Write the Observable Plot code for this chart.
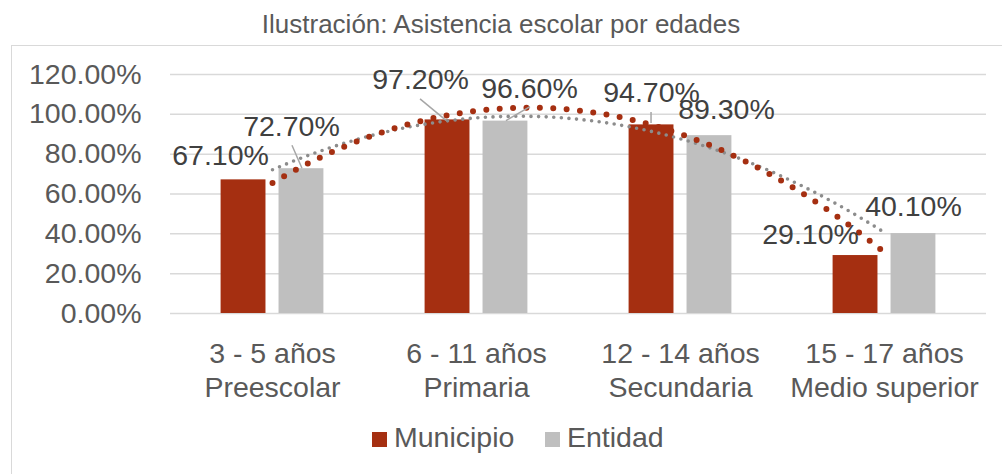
<!DOCTYPE html>
<html>
<head>
<meta charset="utf-8">
<script src="https://cdn.jsdelivr.net/npm/d3@7"></script>
<script src="https://cdn.jsdelivr.net/npm/@observablehq/plot@0.6"></script>
<style>
  html, body { margin: 0; padding: 0; background: #fff; }
  #wrap { position: relative; width: 1002px; height: 474px; overflow: hidden; font-family: "Liberation Sans", Arial, sans-serif; }
  #frame { position: absolute; left: 11px; top: 45px; width: 1200px; height: 600px; border: 1.5px solid #d9d9d9; box-sizing: border-box; }
  #title { position: absolute; left: 0; width: 1002px; top: 11px; text-align: center; font-size: 26px; line-height: 26px; color: #595959; white-space: nowrap; }
  #chart { position: absolute; left: 0; top: 0; }
  .sw { position: absolute; width: 15px; height: 15px; }
  .lt { position: absolute; font-size: 28.5px; line-height: 28.5px; color: #595959; white-space: nowrap; }
</style>
</head>
<body>
<div id="wrap">
  <div id="frame"></div>
  <div id="title">Ilustración: Asistencia escolar por edades</div>
  <div id="chart"></div>
  <div id="legend"></div>
</div>
<script>
// ---- data ----
const categories = ["3 - 5 años\nPreescolar", "6 - 11 años\nPrimaria", "12 - 14 años\nSecundaria", "15 - 17 años\nMedio superior"];
const seriesNames = ["Municipio", "Entidad"];
const municipio = [67.1, 97.2, 94.7, 29.1];
const entidad = [72.7, 96.6, 89.3, 40.1];
const yTicks = [0, 20, 40, 60, 80, 100, 120];

// ---- style / layout ----
const colors = {Municipio: "#A52F11", Entidad: "#BFBFBF"};
const trendColors = {Municipio: "#A52F11", Entidad: "#8C8C8C"};
const barGap = 0.032, barW = 0.22;
// per-label pixel nudges [dx, dy] from bar-top centre
const labelNudge = {
  Municipio: [[-23, -14.5], [-27, -30.6], [0, -22.5], [-45, -12]],
  Entidad:   [[-10, -33],   [24, -22.8],  [17, -17],  [0, -18]]
};
// leader lines: from/to offsets (pixels) relative to bar-top centre
const leaderSpecs = [
  {s: "Entidad", i: 0, from: [-9, -23], to: [1, 0]},
  {s: "Municipio", i: 1, from: [-27, -20.6], to: [-1, 1]},
  {s: "Entidad", i: 1, from: [25, -14], to: [1, 0]},
  {s: "Municipio", i: 2, from: [0, -12.5], to: [0, -1.5]}
];

const valuesOf = {Municipio: municipio, Entidad: entidad};
const rows = [];
seriesNames.forEach((s, k) => {
  valuesOf[s].forEach((v, i) => {
    const x1 = k === 0 ? i - barGap - barW : i + barGap;
    rows.push({s, i, v, x1, x2: x1 + barW, xc: x1 + barW / 2});
  });
});

// quadratic least-squares trendline (as the spreadsheet's polynomial trendline)
function quadFit(ys) {
  const n = ys.length;
  let S = [0, 0, 0, 0, 0], T = [0, 0, 0];
  ys.forEach((y, x) => {
    for (let p = 0; p <= 4; p++) S[p] += Math.pow(x, p);
    for (let p = 0; p <= 2; p++) T[p] += Math.pow(x, p) * y;
  });
  const A = [[S[0], S[1], S[2]], [S[1], S[2], S[3]], [S[2], S[3], S[4]]];
  const det = m => m[0][0]*(m[1][1]*m[2][2]-m[1][2]*m[2][1]) - m[0][1]*(m[1][0]*m[2][2]-m[1][2]*m[2][0]) + m[0][2]*(m[1][0]*m[2][1]-m[1][1]*m[2][0]);
  const D = det(A);
  const coef = [0, 1, 2].map(c => det(A.map((r, j) => r.map((v, q) => q === c ? T[j] : v))) / D);
  return x => coef[0] + coef[1] * x + coef[2] * x * x;
}
const trend = [];
seriesNames.forEach(s => {
  const f = quadFit(valuesOf[s]);
  const n = valuesOf[s].length;
  for (let t = 0; t <= (n - 1) + 1e-9; t += 0.02) trend.push({s, t, y: f(t)});
});

const fmt = v => v.toFixed(2) + "%";

function leaders(index, scales) {
  const g = document.createElementNS("http://www.w3.org/2000/svg", "g");
  for (const L of leaderSpecs) {
    const r = rows.find(d => d.s === L.s && d.i === L.i);
    const bx = scales.x(r.xc), by = scales.y(r.v);
    const ln = document.createElementNS("http://www.w3.org/2000/svg", "line");
    ln.setAttribute("x1", bx + L.from[0]); ln.setAttribute("y1", by + L.from[1]);
    ln.setAttribute("x2", bx + L.to[0]); ln.setAttribute("y2", by + L.to[1]);
    ln.setAttribute("stroke", "#a6a6a6"); ln.setAttribute("stroke-width", "1.5");
    g.appendChild(ln);
  }
  return g;
}

const labelMarks = rows.map((r, j) => Plot.text([r], {
  x: "xc", y: "v", text: d => fmt(d.v),
  dx: labelNudge[r.s][r.i][0], dy: labelNudge[r.s][r.i][1],
  lineAnchor: "bottom", textAnchor: "middle",
  fill: "#404040", fontSize: 28.5
}));

const plot = Plot.plot({
  width: 1002,
  height: 420,
  marginTop: 74,
  marginBottom: 107,
  marginLeft: 170,
  marginRight: 16,
  style: {fontFamily: "'Liberation Sans', Arial, sans-serif", fontSize: "28.5px", color: "#595959", background: "transparent", overflow: "visible"},
  x: {type: "linear", domain: [-0.5, categories.length - 0.5]},
  y: {domain: [0, 120]},
  marks: [
    Plot.ruleY(yTicks, {stroke: "#d9d9d9", strokeWidth: 1.5}),
    Plot.rectY(rows, {x1: "x1", x2: "x2", y1: 0, y2: "v", fill: d => colors[d.s]}),
    Plot.line(trend.filter(d => d.s === "Entidad"), {x: "t", y: "y", stroke: trendColors.Entidad, strokeWidth: 3.6, strokeDasharray: "0 7.6", strokeLinecap: "round"}),
    Plot.line(trend.filter(d => d.s === "Municipio"), {x: "t", y: "y", stroke: trendColors.Municipio, strokeWidth: 6, strokeDasharray: "0 13.4", strokeLinecap: "round"}),
    leaders,
    ...labelMarks,
    Plot.axisY({ticks: yTicks, tickFormat: fmt, tickSize: 0, tickPadding: 29, label: null, fill: "#595959"}),
    Plot.axisX({ticks: d3.range(categories.length), tickFormat: i => categories[i], tickSize: 0, tickPadding: 25, lineHeight: 1.2, label: null, fill: "#595959"})
  ]
});
document.getElementById("chart").appendChild(plot);

// legend
const legend = document.getElementById("legend");
const legendPos = [{sq: 372, tx: 394}, {sq: 545, tx: 567}];
seriesNames.forEach((s, k) => {
  const sw = document.createElement("div");
  sw.className = "sw"; sw.style.left = legendPos[k].sq + "px"; sw.style.top = "432px"; sw.style.background = colors[s];
  legend.appendChild(sw);
  const t = document.createElement("div");
  t.className = "lt"; t.style.left = legendPos[k].tx + "px"; t.style.top = "423px"; t.textContent = s;
  legend.appendChild(t);
});
</script>
</body>
</html>
